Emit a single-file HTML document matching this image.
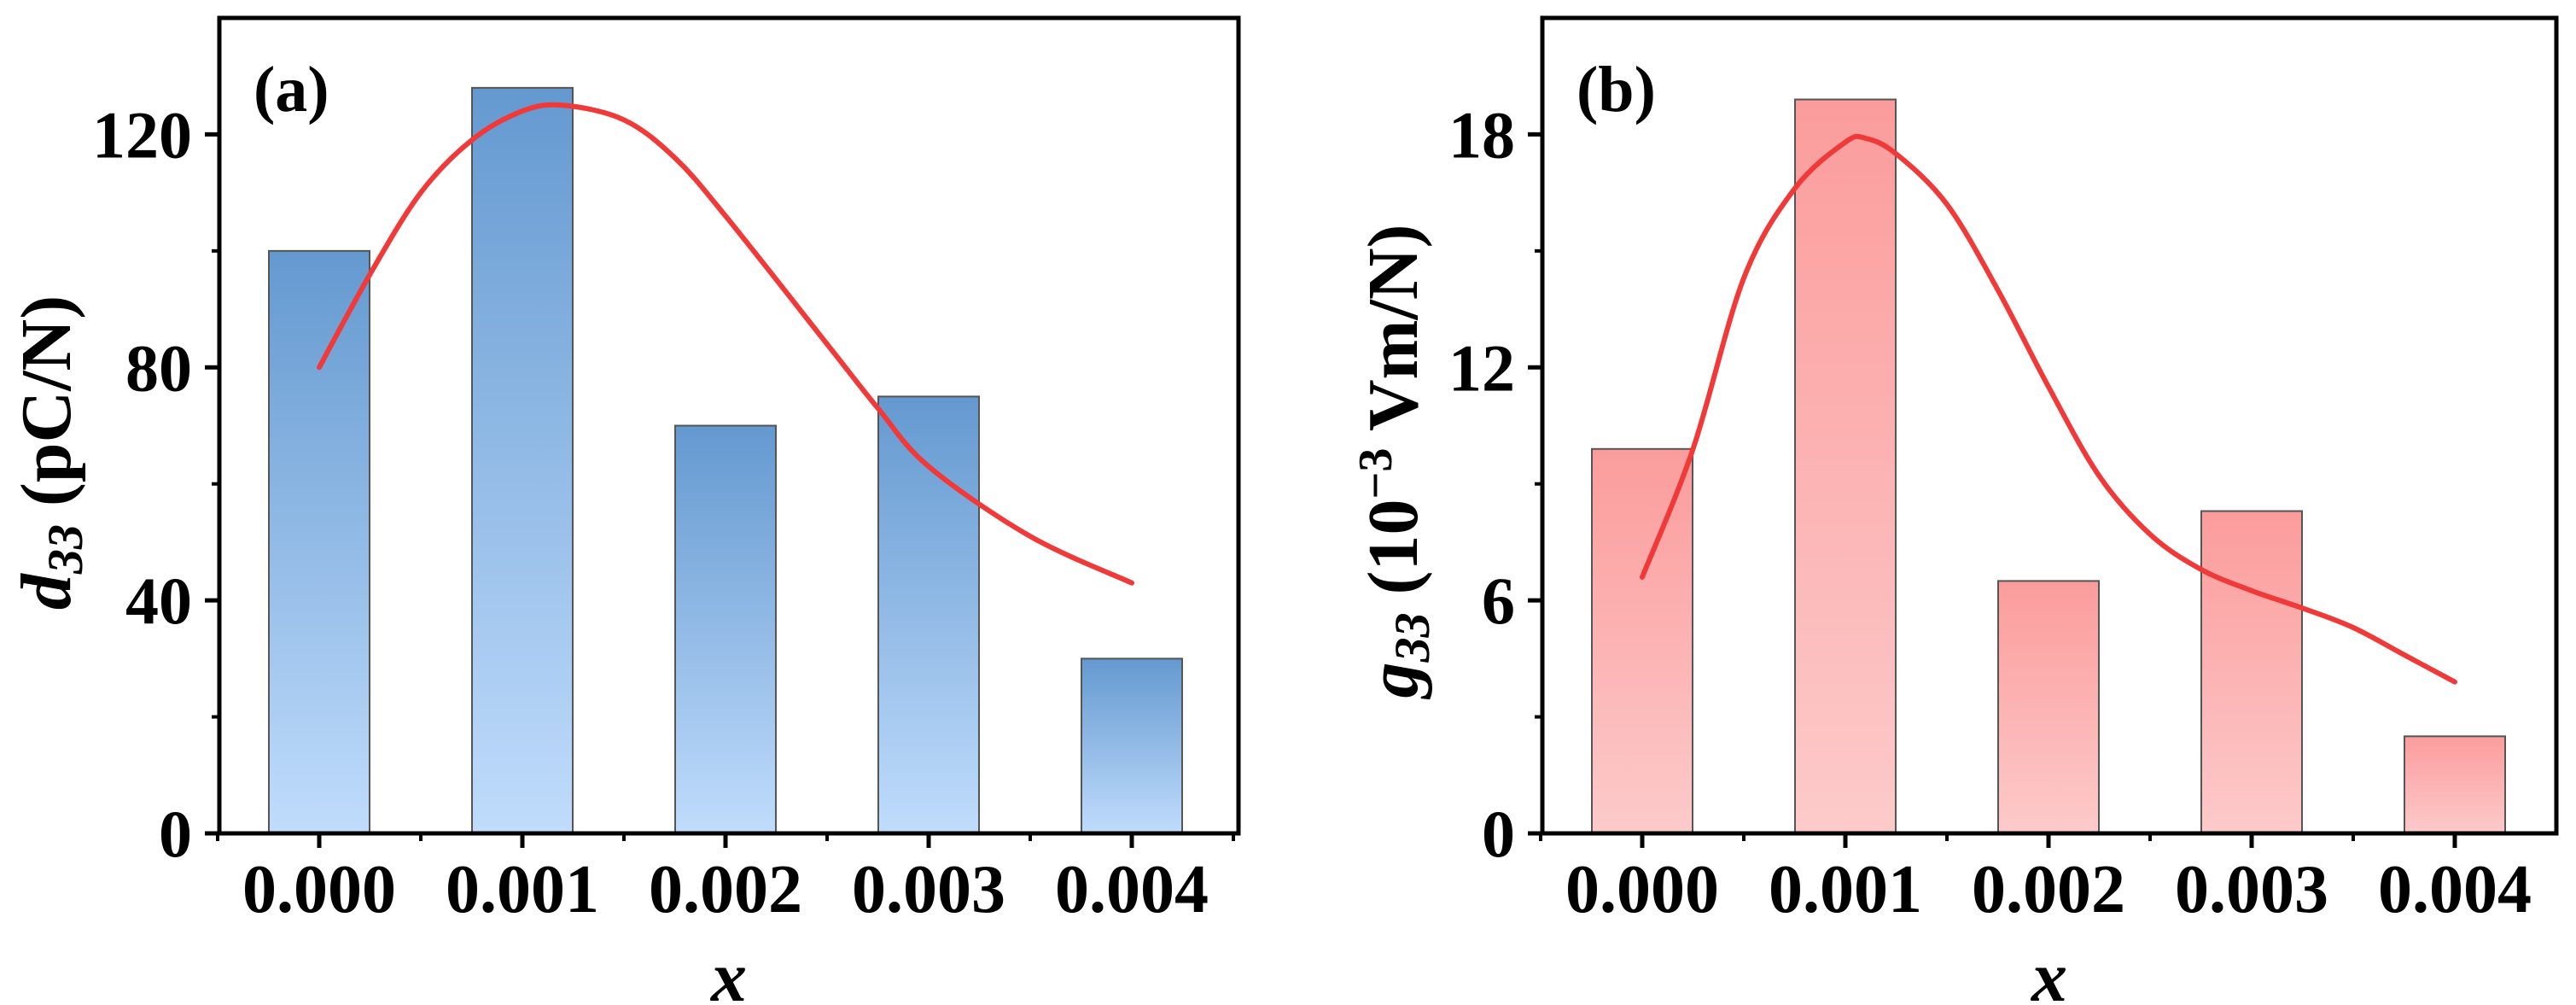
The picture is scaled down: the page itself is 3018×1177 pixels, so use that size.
<!DOCTYPE html>
<html><head><meta charset="utf-8"><style>
html,body{margin:0;padding:0;background:#fff;}
svg{display:block;}
text{font-family:"Liberation Serif",serif;font-weight:bold;fill:#000;}
</style></head><body>
<svg id="chart" width="3018" height="1177" viewBox="0 0 3018 1177" xmlns="http://www.w3.org/2000/svg">
<defs>
<linearGradient id="gBlue" x1="0" y1="0" x2="0" y2="1"><stop offset="0" stop-color="#6499d0"/><stop offset="1" stop-color="#c0dcfc"/></linearGradient>
<linearGradient id="gRed" x1="0" y1="0" x2="0" y2="1"><stop offset="0" stop-color="#fb9c9c"/><stop offset="1" stop-color="#fdcaca"/></linearGradient>
</defs>
</svg>
<script>
const categories = [0.000, 0.001, 0.002, 0.003, 0.004];
const tickLabels = ["0.000","0.001","0.002","0.003","0.004"];
const d33Values = [100, 128, 70, 75, 30];
const g33Values = [9.9, 18.9, 6.5, 8.3, 2.5];
const d33FitX = [0,0.00025,0.0005,0.00075,0.001,0.0012,0.0015,0.00175,0.002,0.0025,0.00275,0.003,0.0035,0.004];
const d33FitY = [80,96,110,119,124,125,122.5,116,106,84,73,63,51,43];
const g33FitX = [0,0.00025,0.0005,0.00075,0.001,0.0011,0.00125,0.0015,0.00175,0.002,0.00225,0.0025,0.00275,0.003,0.00325,0.0035,0.00375,0.004];
const g33FitY = [6.6,9.9,14.3,16.6,17.8,17.9,17.5,16.2,14,11.5,9.2,7.7,6.8,6.25,5.8,5.3,4.6,3.9];
const d33Ticks = [0,40,80,120];
const g33Ticks = [0,6,12,18];

const NS = "http://www.w3.org/2000/svg";
const svg = document.getElementById('chart');
function mk(tag, attrs, parent){const e=document.createElementNS(NS,tag);for(const k in attrs)e.setAttribute(k,attrs[k]);(parent||svg).appendChild(e);return e;}

function smoothPath(pts){
  let d='M'+pts[0][0].toFixed(1)+' '+pts[0][1].toFixed(1);
  for(let i=0;i<pts.length-1;i++){
    const p0=pts[i-1]||pts[i],p1=pts[i],p2=pts[i+1],p3=pts[i+2]||p2;
    const c1=[p1[0]+(p2[0]-p0[0])/6,p1[1]+(p2[1]-p0[1])/6];
    const c2=[p2[0]-(p3[0]-p1[0])/6,p2[1]-(p3[1]-p1[1])/6];
    d+=' C'+c1[0].toFixed(1)+' '+c1[1].toFixed(1)+' '+c2[0].toFixed(1)+' '+c2[1].toFixed(1)+' '+p2[0].toFixed(1)+' '+p2[1].toFixed(1);
  }
  return d;
}

function panel(cfg){
  const g = mk('g',{});
  
  
  const L=cfg.left,R=cfg.right,T=21,B=976;
  const xs = v => cfg.x0 + (v/0.001)*238;
  const ys = v => B - (v/cfg.ymax)*(B-T);
  cfg.values.forEach((v,i)=>{
    const r = mk('rect',{x:xs(categories[i])-59,y:ys(v),width:118,height:B-ys(v),fill:cfg.grad,stroke:'#555','stroke-width':2},g);
    
    
  });
  const pts = cfg.fx.map((x,i)=>[xs(x), ys(cfg.fy[i])]);
  const p = mk('path',{d:smoothPath(pts),fill:'none',stroke:'#f03a3a','stroke-width':6,'stroke-linejoin':'round','stroke-linecap':'round'},g);
  
  
  const fr = mk('rect',{x:L,y:T,width:R-L,height:B-T,fill:'none',stroke:'#000','stroke-width':5},g);
  
  
  categories.forEach((c,i)=>{
    mk('line',{x1:xs(c),x2:xs(c),y1:B,y2:B+17,stroke:'#000','stroke-width':5},g);
    const t = mk('text',{x:xs(c),y:1068,'font-size':80,'text-anchor':'middle'},g);
    t.textContent = tickLabels[i];
    
    
    const m = xs(c)+119;
    if(m<R) mk('line',{x1:m,x2:m,y1:B,y2:B+9,stroke:'#000','stroke-width':4},g);
  });
  mk('line',{x1:xs(0)-119,x2:xs(0)-119,y1:B,y2:B+9,stroke:'#000','stroke-width':4},g);
  cfg.ticks.forEach((v,i)=>{
    mk('line',{x1:L-17,x2:L,y1:ys(v),y2:ys(v),stroke:'#000','stroke-width':5},g);
    const t = mk('text',{x:L-32,y:ys(v)+27,'font-size':78,'text-anchor':'end'},g);
    t.textContent = v;
    
    
    const step = cfg.ticks[1]-cfg.ticks[0];
    const mv = v+step/2;
    if(mv<cfg.ymax) mk('line',{x1:L-9,x2:L,y1:ys(mv),y2:ys(mv),stroke:'#000','stroke-width':4},g);
  });
  const pl = mk('text',{x:L+40,y:130,'font-size':76},g);
  pl.textContent = cfg.label;
  
  
  const xt = mk('text',{x:(L+R)/2,y:1172,'font-size':84,'font-style':'italic','text-anchor':'middle'},g);
  xt.textContent = 'x';
  
  
  return {g,L,ys};
}

const a = panel({name:'panel-a-d33',left:257,right:1451,x0:374,ymax:140,values:d33Values,grad:'url(#gBlue)',fx:d33FitX,fy:d33FitY,ticks:d33Ticks,label:'(a)'});
const b = panel({name:'panel-b-g33',left:1807,right:2995,x0:1924,ymax:21,values:g33Values,grad:'url(#gRed)',fx:g33FitX,fy:g33FitY,ticks:g33Ticks,label:'(b)'});

const ya = mk('text',{transform:'translate(82,530) rotate(-90)','font-size':84,'text-anchor':'middle'});
ya.innerHTML = '<tspan font-style="italic">d</tspan><tspan font-style="italic" font-size="58" dy="14">33</tspan><tspan dy="-14"> (pC/N)</tspan>';



const yb = mk('text',{transform:'translate(1660,540) rotate(-90)','font-size':84,'text-anchor':'middle'});
yb.innerHTML = '<tspan font-style="italic">g</tspan><tspan font-style="italic" font-size="58" dy="14">33</tspan><tspan dy="-14"> (10</tspan><tspan font-size="56" dy="-30">−3</tspan><tspan dy="30"> Vm/N)</tspan>';


</script>
</body></html>
